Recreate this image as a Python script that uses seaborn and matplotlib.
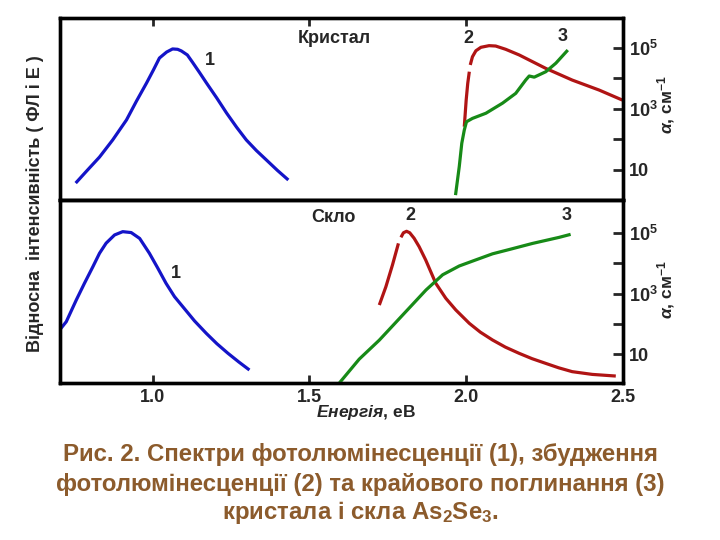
import numpy as np
import matplotlib
matplotlib.use("Agg")
import matplotlib.pyplot as plt
import seaborn as sns

# --- Кристал (верхня панель) ---
# 1: фотолюмінесценція
cr_pl_e = [0.755, 0.793, 0.831, 0.873, 0.917, 0.949, 0.981, 1.003, 1.022, 1.045, 1.064,
           1.080, 1.092, 1.111, 1.127, 1.150, 1.172, 1.205, 1.236, 1.268, 1.299, 1.331, 1.363, 1.398, 1.433]
cr_pl_i = [0.093, 0.165, 0.236, 0.330, 0.440, 0.544, 0.643, 0.715, 0.780, 0.813, 0.830,
           0.828, 0.819, 0.797, 0.758, 0.700, 0.643, 0.560, 0.478, 0.400, 0.330, 0.272, 0.220, 0.163, 0.110]
# 2: збудження ФЛ (з розривом)
cr_ple_e_a = [1.994, 2.000, 2.005, 2.010]
cr_ple_i_a = [0.403, 0.549, 0.641, 0.705]
cr_ple_e_b = [2.013, 2.020, 2.031, 2.047, 2.073, 2.094, 2.126, 2.169, 2.254, 2.338, 2.424, 2.498]
cr_ple_i_b = [0.742, 0.787, 0.820, 0.839, 0.848, 0.846, 0.828, 0.797, 0.723, 0.659, 0.604, 0.549]
# 3: крайове поглинання, см^-1
cr_abs_e = [1.966, 1.978, 1.986, 1.994, 2.001, 2.020, 2.063, 2.116, 2.158, 2.190,
            2.201, 2.217, 2.254, 2.286, 2.324]
cr_abs_a = [1.5, 13, 75, 204, 380, 490, 724, 1550, 3240, 8900,
            12000, 11000, 16600, 31600, 85000]

# --- Скло (нижня панель) ---
gl_pl_e = [0.704, 0.725, 0.757, 0.783, 0.810, 0.831, 0.852, 0.879, 0.905, 0.932,
           0.959, 0.990, 1.017, 1.043, 1.070, 1.096, 1.134, 1.171, 1.205, 1.240, 1.275, 1.309]
gl_pl_i = [0.290, 0.335, 0.454, 0.545, 0.636, 0.709, 0.764, 0.809, 0.827, 0.822,
           0.790, 0.709, 0.627, 0.545, 0.472, 0.418, 0.339, 0.272, 0.215, 0.163, 0.115, 0.071]
gl_ple_e_a = [1.723, 1.744, 1.765, 1.784]
gl_ple_i_a = [0.426, 0.526, 0.645, 0.763]
gl_ple_e_b = [1.792, 1.800, 1.810, 1.820, 1.834, 1.850, 1.871, 1.903, 1.935, 1.967,
              2.010, 2.045, 2.084, 2.125, 2.169, 2.210, 2.254, 2.295, 2.338, 2.402, 2.477]
gl_ple_i_b = [0.796, 0.821, 0.829, 0.821, 0.791, 0.745, 0.672, 0.545, 0.463, 0.399,
              0.326, 0.278, 0.235, 0.196, 0.162, 0.133, 0.107, 0.083, 0.062, 0.047, 0.038]
gl_abs_e = [1.596, 1.659, 1.723, 1.797, 1.872, 1.925, 1.978, 2.031, 2.084, 2.137,
            2.211, 2.296, 2.333]
gl_abs_a = [1.16, 7.0, 29.5, 195, 1320, 4170, 8130, 12900, 20400, 28200,
            44700, 70800, 89100]

x_ticks = [1.0, 1.5, 2.0, 2.5]
x_tick_labels = ["1.0", "1.5", "2.0", "2.5"]
a_ticks = [10, 1e3, 1e5]
a_tick_labels = ["10", "10$^3$", "10$^5$"]

BLUE = "#1414c8"
RED = "#b01414"
GREEN = "#178a17"
BROWN = "#8c5b2c"

sns.set_style("white")
plt.rcParams["font.family"] = ["Liberation Sans", "DejaVu Sans"]
plt.rcParams["font.weight"] = "bold"
plt.rcParams["mathtext.fontset"] = "custom"
plt.rcParams["mathtext.rm"] = "Liberation Sans:bold"
plt.rcParams["mathtext.bf"] = "Liberation Sans:bold"
plt.rcParams["mathtext.it"] = "Liberation Sans:italic:bold"

fig = plt.figure(figsize=(7.2, 5.4), dpi=100)
L, W = 60 / 720, 563 / 720
ax_top = fig.add_axes([L, 340 / 540, W, 182 / 540])
ax_bot = fig.add_axes([L, 157 / 540, W, 183 / 540])


def draw_panel(ax, pl, ple_a, ple_b, absn, alim):
    kw = dict(linewidth=2.3, sort=False, estimator=None, solid_capstyle="butt")
    sns.lineplot(x=pl[0], y=pl[1], ax=ax, color=BLUE, **kw)
    sns.lineplot(x=ple_a[0], y=ple_a[1], ax=ax, color=RED, **kw)
    sns.lineplot(x=ple_b[0], y=ple_b[1], ax=ax, color=RED, **kw)
    ax.set_xlim(0.705, 2.5)
    ax.set_ylim(0, 1)
    ax.set_yticks([])
    ax.set_xticks(x_ticks)
    ax.set_xlabel("")
    ax.set_ylabel("")
    ax2 = ax.twinx()
    sns.lineplot(x=absn[0], y=absn[1], ax=ax2, color=GREEN, **kw)
    ax2.set_yscale("log")
    ax2.set_ylim(*alim)
    ax2.set_yticks(a_ticks)
    ax2.set_yticklabels(a_tick_labels)
    ax2.set_yticks([100, 1e4], minor=True)
    ax2.set_yticklabels([], minor=True)
    ax2.tick_params(axis="y", which="both", direction="in", length=7, width=2,
                    labelsize=13, pad=4, right=True)
    ax2.set_ylabel("")
    for a in (ax, ax2):
        for s in a.spines.values():
            s.set_linewidth(2.4)
            s.set_color("black")
    return ax2


draw_panel(ax_top, (cr_pl_e, cr_pl_i), (cr_ple_e_a, cr_ple_i_a), (cr_ple_e_b, cr_ple_i_b),
           (cr_abs_e, cr_abs_a), (10 ** 0.016, 10 ** 5.98))
draw_panel(ax_bot, (gl_pl_e, gl_pl_i), (gl_ple_e_a, gl_ple_i_a), (gl_ple_e_b, gl_ple_i_b),
           (gl_abs_e, gl_abs_a), (10 ** 0.06, 10 ** 6.08))

ax_top.tick_params(axis="x", top=True, bottom=False, labeltop=False, labelbottom=False,
                   direction="in", length=6, width=2)
ax_bot.tick_params(axis="x", top=False, bottom=True, labelbottom=True,
                   direction="in", length=6, width=2, labelsize=13, pad=4)
ax_bot.set_xticklabels(x_tick_labels)

fs = 13
ax_top.text(0.488, 0.89, "Кристал", transform=ax_top.transAxes, ha="center", va="center", fontsize=fs)
ax_top.text(0.266, 0.769, "1", transform=ax_top.transAxes, ha="center", va="center", fontsize=fs)
ax_top.text(0.725, 0.89, "2", transform=ax_top.transAxes, ha="center", va="center", fontsize=fs)
ax_top.text(0.892, 0.90, "3", transform=ax_top.transAxes, ha="center", va="center", fontsize=fs)
ax_bot.text(0.485, 0.902, "Скло", transform=ax_bot.transAxes, ha="center", va="center", fontsize=fs)
ax_bot.text(0.622, 0.913, "2", transform=ax_bot.transAxes, ha="center", va="center", fontsize=fs)
ax_bot.text(0.90, 0.913, "3", transform=ax_bot.transAxes, ha="center", va="center", fontsize=fs)
ax_bot.text(0.206, 0.601, "1", transform=ax_bot.transAxes, ha="center", va="center", fontsize=fs)

fig.text(35 / 720, 1 - 204 / 540, "Відносна  інтенсивність ( ФЛ і Е )", rotation=90,
         ha="center", va="center", fontsize=13)
for yc in (105, 290):
    fig.text(666 / 720, 1 - yc / 540, r"$\alpha$, см$^{-1}$", rotation=90,
             ha="center", va="center", fontsize=12.5)
fig.text(366 / 720, 1 - 413 / 540, r"$Енергія$, еВ", ha="center", va="center", fontsize=12.5)

cap = ["Рис. 2. Спектри фотолюмінесценції (1), збудження",
       "фотолюмінесценції (2) та крайового поглинання (3)",
       "кристала і скла As$_2$Se$_3$."]
for yc, line in zip((455, 484, 512), cap):
    fig.text(0.5, 1 - yc / 540, line, ha="center", va="center", fontsize=17.3, color=BROWN)

fig.savefig("out.png", dpi=100)
